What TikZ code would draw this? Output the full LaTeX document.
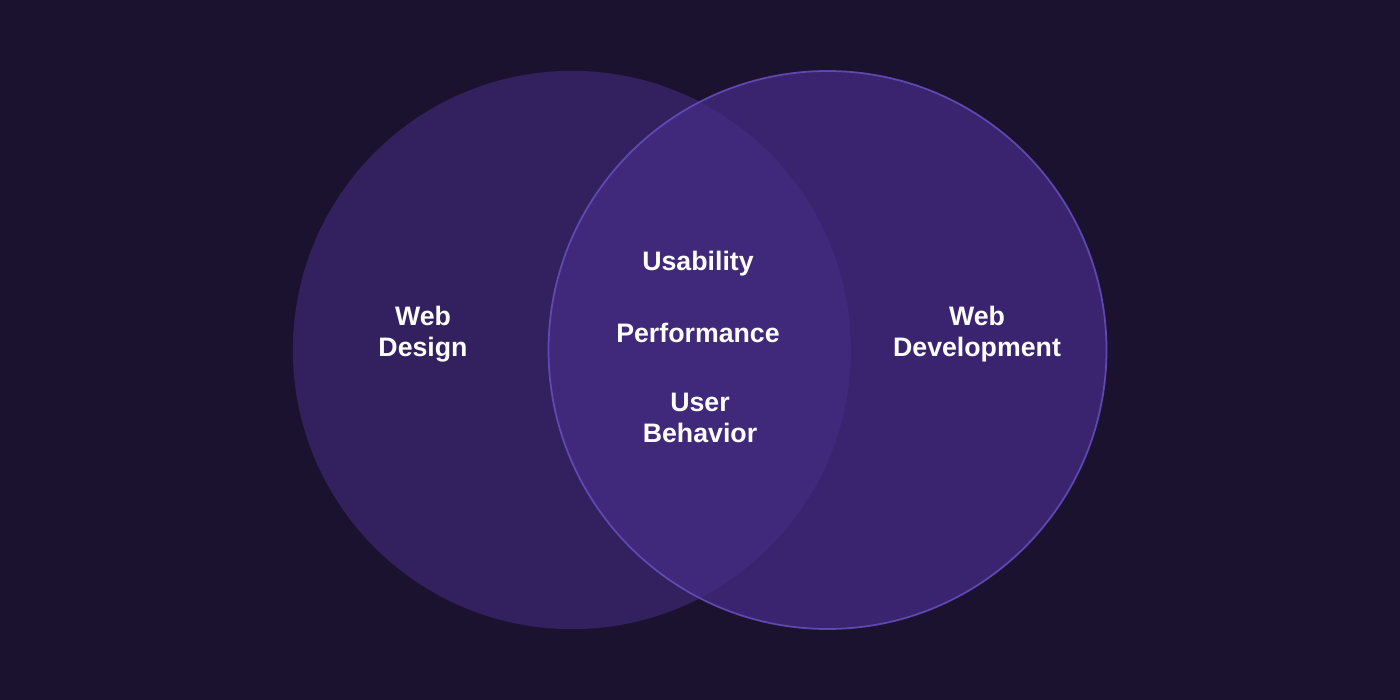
\documentclass[tikz,border=0pt]{standalone}
\usepackage{fontspec}
\setmainfont{Liberation Sans}
\begin{document}
\begin{tikzpicture}[x=0.01cm,y=-0.01cm,
  lbl/.style={text=white,font=\bfseries\fontsize{7.6}{8.9}\selectfont,align=center,inner sep=0pt},
  venn/.style={circle,minimum size=5.58cm,inner sep=0pt}]
\definecolor{bg}{HTML}{1B1230}
\definecolor{lc}{HTML}{33205E}
\definecolor{rc}{HTML}{3A2470}
\definecolor{oc}{HTML}{40287A}
\definecolor{edge}{HTML}{6B52C4}
\fill[bg] (0,0) rectangle (1400,700);
\useasboundingbox (0,0) rectangle (1400,700);
\node[venn,fill=lc] (L) at (572,350) {};
\node[venn,fill=rc] (R) at (827.5,350) {};
\begin{scope}
  \clip (572,350) circle[radius=279];
  \fill[oc] (827.5,350) circle[radius=279];
\end{scope}
\draw[edge,line width=0.5pt,opacity=0.8] (827.5,350) circle[radius=279];
\node[lbl] (wd) at (423,334) {Web\\Design};
\node[lbl] (wdev) at (977,334) {Web\\Development};
\node[lbl] (u) at (698,264) {Usability};
\node[lbl] (p) at (698,333) {Performance};
\node[lbl] (ub) at (700,418) {User\\Behavior};
\end{tikzpicture}
\end{document}
